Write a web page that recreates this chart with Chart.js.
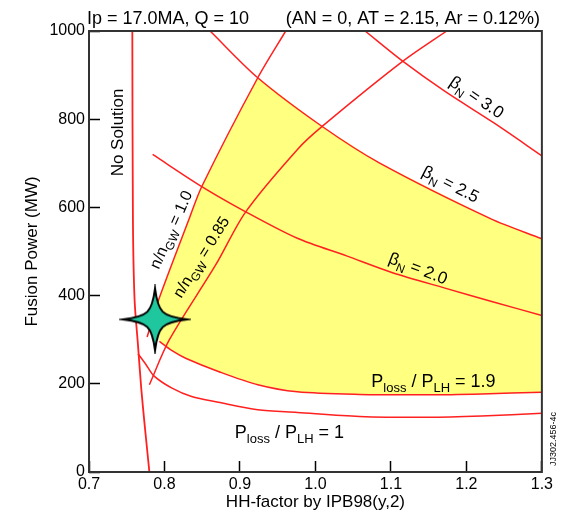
<!DOCTYPE html>
<html>
<head>
<meta charset="utf-8">
<script src="https://cdn.jsdelivr.net/npm/chart.js@4.4.0/dist/chart.umd.min.js"></script>
<style>
  html, body { margin: 0; padding: 0; background: #fff; }
  canvas { display: block; }
</style>
</head>
<body>
<canvas id="fusionChart" width="567" height="515"></canvas>
<script>
// Ip = 17 MA, Q = 10 operating space: fusion power against H-factor
const noSolutionHH    = [0.7574, 0.7582, 0.7604, 0.7648, 0.7692, 0.7735, 0.7800];
const noSolutionPower = [1000, 570, 390, 290, 190, 111, 0];

const greenwald100HH    = [0.9606, 0.9236, 0.8496, 0.8322, 0.7909, 0.7770];
const greenwald100Power = [1000, 894, 648, 572, 384, 306];

const greenwald085HH    = [1.1739, 1.1155, 1.0085, 0.9759, 0.9076, 0.8680, 0.8065, 0.7800];
const greenwald085Power = [1000, 931, 783, 731, 590, 470, 300, 198];

const betaN30HH    = [1.0658, 1.1160, 1.1717, 1.2370, 1.3000];
const betaN30Power = [1000, 931, 863, 791, 717];

const betaN25HH    = [0.8604, 0.9236, 1.0085, 1.0846, 1.2326, 1.3000];
const betaN25Power = [1000, 894, 784, 701, 574, 529];

const betaN20HH    = [0.7843, 0.8505, 0.9076, 0.9760, 1.0412, 1.1021, 1.1717, 1.2370, 1.3000];
const betaN20Power = [720, 646, 590, 530, 490, 452, 417, 385, 355];

const lossRatio19HH    = [0.7933, 0.8100, 0.8280, 0.8714, 0.9236, 0.9760, 1.0580, 1.1500, 1.2200, 1.3000];
const lossRatio19Power = [296, 275, 258, 228, 198, 182, 176, 175, 177, 181];

const lossRatio10HH    = [0.7650, 0.7750, 0.7860, 0.8100, 0.8360, 0.8714, 0.9236, 0.9760, 1.0580, 1.1500, 1.2200, 1.3000];
const lossRatio10Power = [268, 245, 218, 190, 171, 158, 141, 135, 126, 124, 127, 133];

const designPointHH    = [0.7875];
const designPointPower = [346];

const hhTicks    = [0.7, 0.8, 0.9, 1.0, 1.1, 1.2, 1.3];
const powerTicks = [0, 200, 400, 600, 800, 1000];

const pts = (xs, ys) => xs.map((x, i) => ({ x: x, y: ys[i] }));

// allowed window: n/nGW = 1.0 on the left, beta_N = 2.5 on top, Ploss/PLH = 1.9 below
const operatingWindow = [
    ...pts(greenwald100HH, greenwald100Power).filter(p => p.y >= 380 && p.y <= 894).reverse(),
    ...pts(betaN25HH, betaN25Power).filter(p => p.x > 0.93),
    ...pts(lossRatio19HH, lossRatio19Power).reverse()
];

const RED = '#ff2020';
const FONT = '"Liberation Sans", Arial, sans-serif';

// four pointed marker for the design point
function makeStar() {
    const c = document.createElement('canvas');
    c.width = 72; c.height = 70;
    const g = c.getContext('2d');
    g.translate(36, 35);
    const rx = 32, ry = 31, a = 3, b = 7;
    g.beginPath();
    g.moveTo(0, -ry);
    g.bezierCurveTo(a, -b, b, -a, rx, 0);
    g.bezierCurveTo(b, a, a, b, 0, ry);
    g.bezierCurveTo(-a, b, -b, a, -rx, 0);
    g.bezierCurveTo(-b, -a, -a, -b, 0, -ry);
    g.closePath();
    g.fillStyle = '#1fc79f';
    g.fill();
    g.lineWidth = 2;
    g.strokeStyle = '#000';
    g.stroke();
    return c;
}

const curveLabels = [
    { parts: [['No Solution']], at: [0.7366, 770], angle: -90, size: 17 },
    { parts: [['n/n'], ['GW', true], [' = 1.0']], at: [0.8080, 550], angle: -66, size: 16 },
    { parts: [['n/n'], ['GW', true], [' = 0.85']], at: [0.8480, 488], angle: -58, size: 16 },
    { parts: [['\u03b2'], ['N', true], [' = 3.0']], at: [1.2141, 851], angle: 34, size: 17 },
    { parts: [['\u03b2'], ['N', true], [' = 2.5']], at: [1.1795, 654], angle: 27, size: 17 },
    { parts: [['\u03b2'], ['N', true], [' = 2.0']], at: [1.1364, 463], angle: 21, size: 17 },
    { parts: [['P'], ['loss', true], [' / P'], ['LH', true], [' = 1.9']], at: [1.074, 193], angle: 0, size: 18, left: true },
    { parts: [['P'], ['loss', true], [' / P'], ['LH', true], [' = 1']], at: [0.8932, 77], angle: 0, size: 18, left: true }
];

const labelPlugin = {
    id: 'curveLabels',
    afterDatasetsDraw(chart) {
        const { ctx, scales: { x, y }, chartArea } = chart;
        ctx.save();
        // frame round the plot
        ctx.strokeStyle = '#333';
        ctx.lineWidth = 2;
        ctx.strokeRect(chartArea.left, chartArea.top, chartArea.right - chartArea.left, chartArea.bottom - chartArea.top);

        ctx.fillStyle = '#000';
        ctx.textBaseline = 'alphabetic';
        ctx.textAlign = 'left';
        curveLabels.forEach(lbl => {
            const mainFont = lbl.size + 'px ' + FONT;
            const subFont = Math.round(lbl.size * 0.72) + 'px ' + FONT;
            let total = 0;
            const widths = lbl.parts.map(([t, sub]) => {
                ctx.font = sub ? subFont : mainFont;
                const w = ctx.measureText(t).width;
                total += w;
                return w;
            });
            ctx.save();
            ctx.translate(x.getPixelForValue(lbl.at[0]), y.getPixelForValue(lbl.at[1]));
            ctx.rotate(lbl.angle * Math.PI / 180);
            let cx = lbl.left ? 0 : -total / 2;
            const base = lbl.left ? 0 : lbl.size * 0.36;
            lbl.parts.forEach(([t, sub], i) => {
                ctx.font = sub ? subFont : mainFont;
                ctx.fillText(t, cx, base + (sub ? lbl.size * 0.28 : 0));
                cx += widths[i];
            });
            ctx.restore();
        });

        // heading
        ctx.font = '18px ' + FONT;
        ctx.textAlign = 'left';
        ctx.fillText('Ip = 17.0MA, Q = 10', 87, 24);
        ctx.textAlign = 'right';
        ctx.fillText('(AN = 0, AT = 2.15, Ar = 0.12%)', 540, 24);

        // drawing number
        ctx.save();
        ctx.translate(556, 439);
        ctx.rotate(-Math.PI / 2);
        ctx.font = '9px ' + FONT;
        ctx.textAlign = 'center';
        ctx.fillText('JJ302.456-4c', 0, 0);
        ctx.restore();
        ctx.restore();
    }
};

const curve = (data, extra) => Object.assign({
    data: data, showLine: true, borderColor: RED, borderWidth: 1.5,
    pointRadius: 0, tension: 0.3, fill: false, order: 1
}, extra || {});

const fusionChart = new Chart(document.getElementById('fusionChart'), {
    type: 'scatter',
    data: {
        datasets: [
            { data: pts(designPointHH, designPointPower), pointStyle: makeStar(), pointRadius: 5, order: 0 },
            curve(pts(noSolutionHH, noSolutionPower), { borderWidth: 1.8 }),
            curve(pts(greenwald100HH, greenwald100Power)),
            curve(pts(greenwald085HH, greenwald085Power)),
            curve(pts(betaN30HH, betaN30Power)),
            curve(pts(betaN25HH, betaN25Power)),
            curve(pts(betaN20HH, betaN20Power)),
            curve(pts(lossRatio19HH, lossRatio19Power)),
            curve(pts(lossRatio10HH, lossRatio10Power)),
            { data: operatingWindow, showLine: true, borderWidth: 0, borderColor: 'rgba(0,0,0,0)',
              backgroundColor: '#ffff80', fill: 'shape', pointRadius: 0, tension: 0, order: 2 }
        ]
    },
    options: {
        responsive: false,
        animation: false,
        events: [],
        layout: { padding: { top: 31, right: 19, left: 0, bottom: 0 } },
        plugins: { legend: { display: false }, tooltip: { enabled: false } },
        scales: {
            x: {
                type: 'linear', min: 0.7, max: 1.3,
                afterFit: s => { s.height = 43; },
                afterBuildTicks: s => { s.ticks = hhTicks.map(v => ({ value: v })); },
                border: { display: false },
                grid: { drawOnChartArea: false, drawTicks: true, tickLength: -11, tickColor: '#000', tickWidth: 1.5 },
                ticks: { padding: 14, color: '#000', font: { family: FONT, size: 16 }, callback: v => Number(v).toFixed(1) },
                title: { display: true, text: 'HH-factor by IPB98(y,2)', color: '#000', font: { family: FONT, size: 17 }, padding: { top: 0, bottom: 2 } }
            },
            y: {
                type: 'linear', min: 0, max: 1000,
                afterFit: s => { s.width = 89; },
                afterBuildTicks: s => { s.ticks = powerTicks.map(v => ({ value: v })); },
                border: { display: false },
                grid: { drawOnChartArea: false, drawTicks: true, tickLength: -11, tickColor: '#000', tickWidth: 1.5 },
                ticks: { padding: 15, color: '#000', font: { family: FONT, size: 16 }, callback: v => String(v) },
                title: { display: true, text: 'Fusion Power (MW)', color: '#000', font: { family: FONT, size: 17 }, padding: { top: 22, bottom: 0 } }
            }
        }
    },
    plugins: [labelPlugin]
});
</script>
</body>
</html>
